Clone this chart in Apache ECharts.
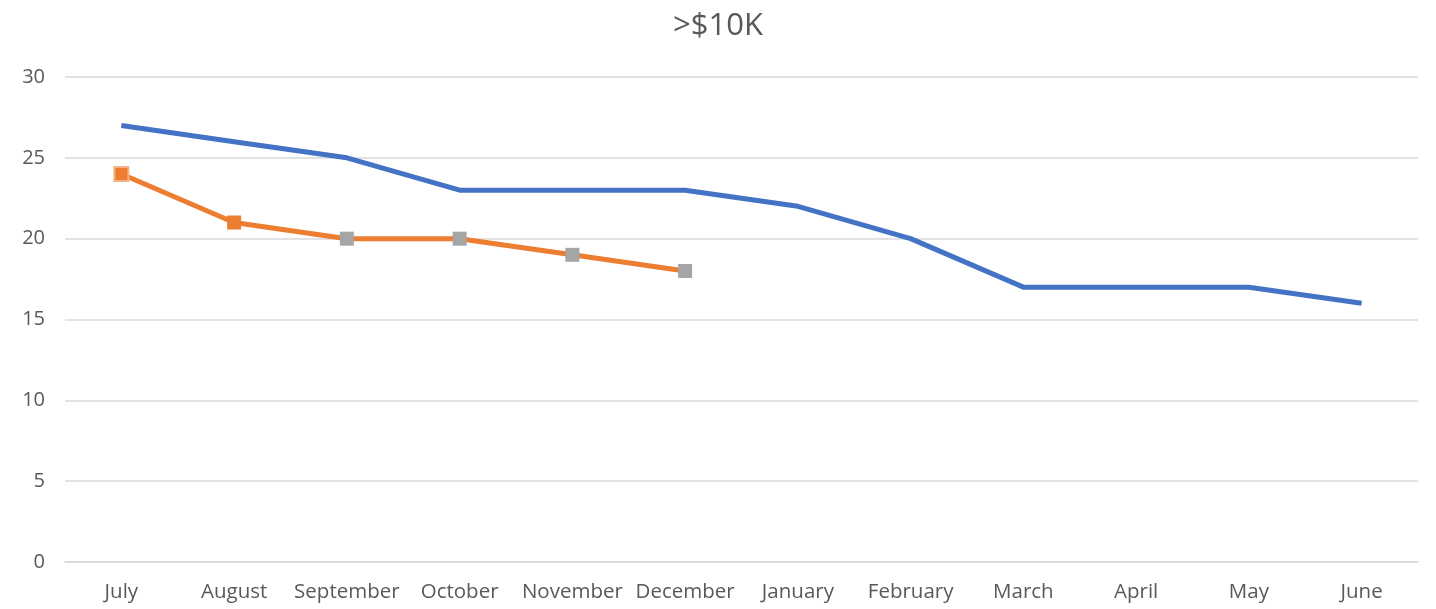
<!DOCTYPE html>
<html>
<head>
<meta charset="utf-8">
<script src="https://cdn.jsdelivr.net/npm/echarts@6/dist/echarts.min.js"></script>
<style>
  html, body { margin: 0; padding: 0; background: #fff; }
  #chart { width: 1436px; height: 609px; }
</style>
</head>
<body>
<div id="chart"></div>
<script>
const months = ['July', 'August', 'September', 'October', 'November', 'December',
  'January', 'February', 'March', 'April', 'May', 'June'];
const blueValues = [27, 26, 25, 23, 23, 23, 22, 20, 17, 17, 17, 16];
const orangeValues = [24, 21, 20, 20, 19, 18];
// marker colours per point of the orange line
const orangeMarkerColors = ['#ED7D31', '#ED7D31', '#A5A5A5', '#A5A5A5', '#A5A5A5', '#A5A5A5'];

const chart = echarts.init(document.getElementById('chart'));

const orangeData = orangeValues.map((v, i) => ({
  value: v,
  itemStyle: {
    color: orangeMarkerColors[i],
    borderColor: i === 0 ? '#F4B183' : orangeMarkerColors[i],
    borderWidth: i === 0 ? 2 : 0
  }
}));

chart.setOption({
  animation: false,
  title: {
    text: '>$10K',
    left: 'center',
    top: 6,
    textStyle: { fontFamily: 'Open Sans', fontSize: 31, fontWeight: 'normal', color: '#595959' }
  },
  grid: { left: 65, right: 18, top: 77, bottom: 47 },
  xAxis: {
    type: 'category',
    data: months,
    boundaryGap: true,
    axisLine: { lineStyle: { color: '#D9D9D9', width: 1.5 } },
    axisTick: { show: false },
    axisLabel: { interval: 0, color: '#595959', fontFamily: 'Open Sans', fontSize: 20.5, margin: 20 }
  },
  yAxis: {
    type: 'value',
    min: 0,
    max: 30,
    interval: 5,
    axisLine: { show: false },
    axisTick: { show: false },
    splitLine: { lineStyle: { color: '#D9D9D9', width: 1.5 } },
    axisLabel: { color: '#595959', fontFamily: 'Open Sans', fontSize: 20, margin: 20 }
  },
  series: [
    {
      name: 'Blue',
      type: 'line',
      data: blueValues,
      showSymbol: false,
      symbol: 'none',
      lineStyle: { color: '#4472C4', width: 5 },
      itemStyle: { color: '#4472C4' }
    },
    {
      name: 'Orange',
      type: 'line',
      data: orangeData,
      symbol: 'rect',
      symbolSize: 14,
      lineStyle: { color: '#ED7D31', width: 5 },
      itemStyle: { color: '#ED7D31' }
    }
  ]
});
</script>
</body>
</html>
